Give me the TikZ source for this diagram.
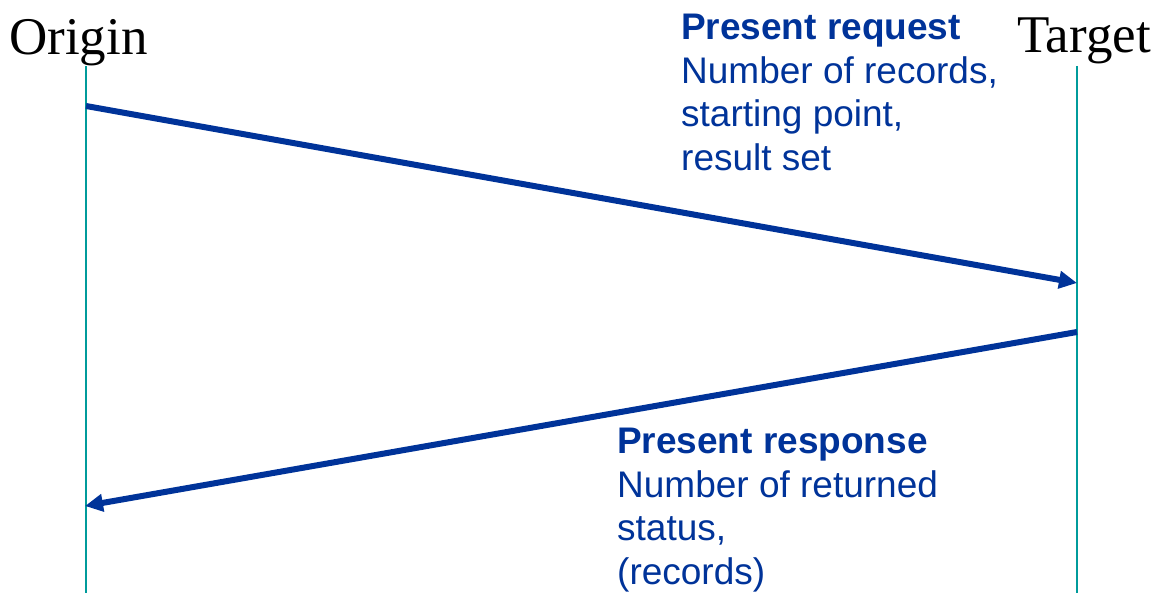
\documentclass[tikz,border=0pt]{standalone}
\usepackage{fontspec}
\setmainfont{Liberation Serif}
\newfontfamily\labelsans{Liberation Sans}
\usetikzlibrary{arrows.meta}
\definecolor{msgblue}{RGB}{0,51,153}
\definecolor{lifeteal}{RGB}{0,155,155}
\begin{document}
\begin{tikzpicture}[x=1pt,y=-1pt,
  lifeline/.style={draw=lifeteal,line width=2pt},
  party/.style={font=\fontsize{53}{60}\selectfont,text=black,inner sep=0pt,anchor=base west},
  message/.style={draw=msgblue,line width=6pt,-{Triangle[length=18pt,width=17pt]}},
  msgtext/.style={font=\labelsans\fontsize{37}{43.5}\selectfont,text=msgblue,align=left,inner sep=0pt,anchor=north west}]
  \useasboundingbox (0,0) rectangle (1167,593);
  % participants
  \node[party] (origin) at (9,55) {Origin};
  \node[party] (target) at (1017,53) {Target};
  \coordinate (otop) at (86,66);
  \coordinate (obot) at (86,593);
  \coordinate (ttop) at (1077,66);
  \coordinate (tbot) at (1077,593);
  \draw[lifeline] (otop) -- (obot);
  \draw[lifeline] (ttop) -- (tbot);
  % messages
  \coordinate (reqstart) at (86,106);
  \coordinate (reqend) at (1077,283);
  \coordinate (respstart) at (1077,332);
  \coordinate (respend) at (85,506);
  \draw[message] (reqstart) -- (reqend);
  \draw[message] (respstart) -- (respend);
  % message descriptions
  \node[msgtext] (reqtext) at (681,14) {\textbf{Present request}\\Number of records,\\starting point,\\result set};
  \node[msgtext] (resptext) at (617,428) {\textbf{Present response}\\Number of returned\\status,\\(records)};
\end{tikzpicture}
\end{document}
